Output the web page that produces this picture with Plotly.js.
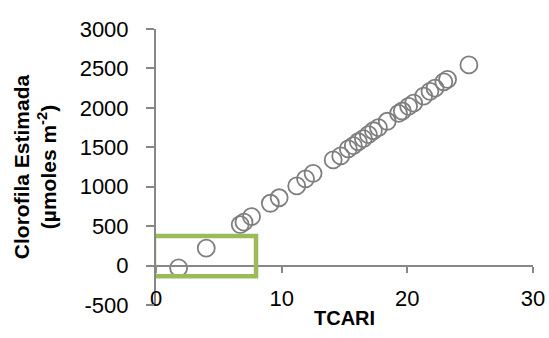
<!DOCTYPE html>
<html>
<head>
<meta charset="utf-8">
<script src="https://cdn.plot.ly/plotly-3.0.1.min.js"></script>
<style>
  html, body { margin: 0; padding: 0; background: #ffffff; }
  #chart { width: 549px; height: 338px; }
</style>
</head>
<body>
<div id="chart"></div>
<script>
// TCARI index vs. estimated chlorophyll
const tcari = [1.8, 4.0, 6.7, 7.0, 7.6, 9.1, 9.8, 11.2, 11.9, 12.5, 14.1, 14.7,
               15.3, 15.7, 16.1, 16.5, 16.9, 17.3, 17.7, 18.4, 19.3, 19.6, 20.1,
               20.5, 21.3, 21.8, 22.2, 22.9, 23.2, 24.9];
const clorofila = [-30, 220, 520, 550, 620, 790, 860, 1010, 1100, 1170, 1340, 1390,
                   1480, 1520, 1570, 1610, 1660, 1710, 1750, 1830, 1930, 1960, 2020,
                   2060, 2150, 2210, 2250, 2330, 2360, 2545];

// highlighted low-TCARI region
const boxX = [-0.16, 7.96];
const boxY = [-135, 375];

const xTicks = [0, 10, 20, 30];
const yTicks = [-500, 0, 500, 1000, 1500, 2000, 2500, 3000];
const xRange = [0, 30];
const yRange = [-500, 3000];

const FONT = 'Liberation Sans, Arial, sans-serif';
const AXIS = '#878787';

const trace = {
  type: 'scatter',
  mode: 'markers',
  x: tcari,
  y: clorofila,
  marker: {
    symbol: 'circle',
    size: 17,
    color: 'rgba(0,0,0,0)',
    line: { color: '#7f7f7f', width: 1.8 }
  },
  cliponaxis: false,
  hoverinfo: 'x+y'
};

// empty trace bound to the crossing axis so it gets drawn
const crossTrace = {
  type: 'scatter', mode: 'markers', x: [null], y: [null], xaxis: 'x2', yaxis: 'y',
  showlegend: false, hoverinfo: 'skip'
};

const layout = {
  width: 549,
  height: 338,
  margin: { l: 156, r: 16, t: 29, b: 33 },
  paper_bgcolor: '#ffffff',
  plot_bgcolor: '#ffffff',
  showlegend: false,
  font: { family: FONT, color: '#000000', size: 22 },
  xaxis: {
    range: xRange,
    tickvals: xTicks,
    ticktext: xTicks.map(String),
    showgrid: false,
    zeroline: false,
    showline: false,
    ticks: '',
    anchor: 'free',
    position: 0.078,
    automargin: false,
    tickfont: { family: FONT, size: 22, color: '#000' }
  },
  // horizontal axis line crossing at y = 0
  xaxis2: {
    range: xRange,
    overlaying: 'x',
    anchor: 'free',
    position: (0 - yRange[0]) / (yRange[1] - yRange[0]),
    side: 'bottom',
    tickvals: xTicks,
    showticklabels: false,
    showgrid: false,
    zeroline: false,
    showline: true,
    linecolor: AXIS,
    linewidth: 2,
    ticks: 'outside',
    ticklen: 6,
    tickwidth: 2,
    tickcolor: AXIS,
    automargin: false
  },
  yaxis: {
    range: yRange,
    tickvals: yTicks,
    ticktext: yTicks.map(String),
    showgrid: false,
    zeroline: false,
    showline: true,
    linecolor: AXIS,
    linewidth: 2,
    ticks: 'outside',
    ticklen: 8,
    tickwidth: 2,
    tickcolor: AXIS,
    ticklabelstandoff: 13,
    automargin: false,
    tickfont: { family: FONT, size: 22, color: '#000' },
    title: {
      text: '<b>Clorofila Estimada<br>(µmoles m<sup>-2</sup>)</b>',
      font: { family: FONT, size: 21, color: '#000' },
      standoff: 17
    }
  },
  annotations: [{
    text: '<b>TCARI</b>',
    xref: 'paper', yref: 'paper',
    x: 0.5, y: -0.048,
    xanchor: 'center', yanchor: 'middle',
    showarrow: false,
    font: { family: FONT, size: 20, color: '#000' }
  }],
  shapes: [{
    type: 'rect',
    xref: 'x', yref: 'y',
    x0: boxX[0], x1: boxX[1], y0: boxY[0], y1: boxY[1],
    line: { color: '#9bbb59', width: 4.5 },
    fillcolor: 'rgba(0,0,0,0)',
    layer: 'above'
  }]
};

Plotly.newPlot('chart', [trace, crossTrace], layout, { staticPlot: true, displayModeBar: false });
</script>
</body>
</html>
